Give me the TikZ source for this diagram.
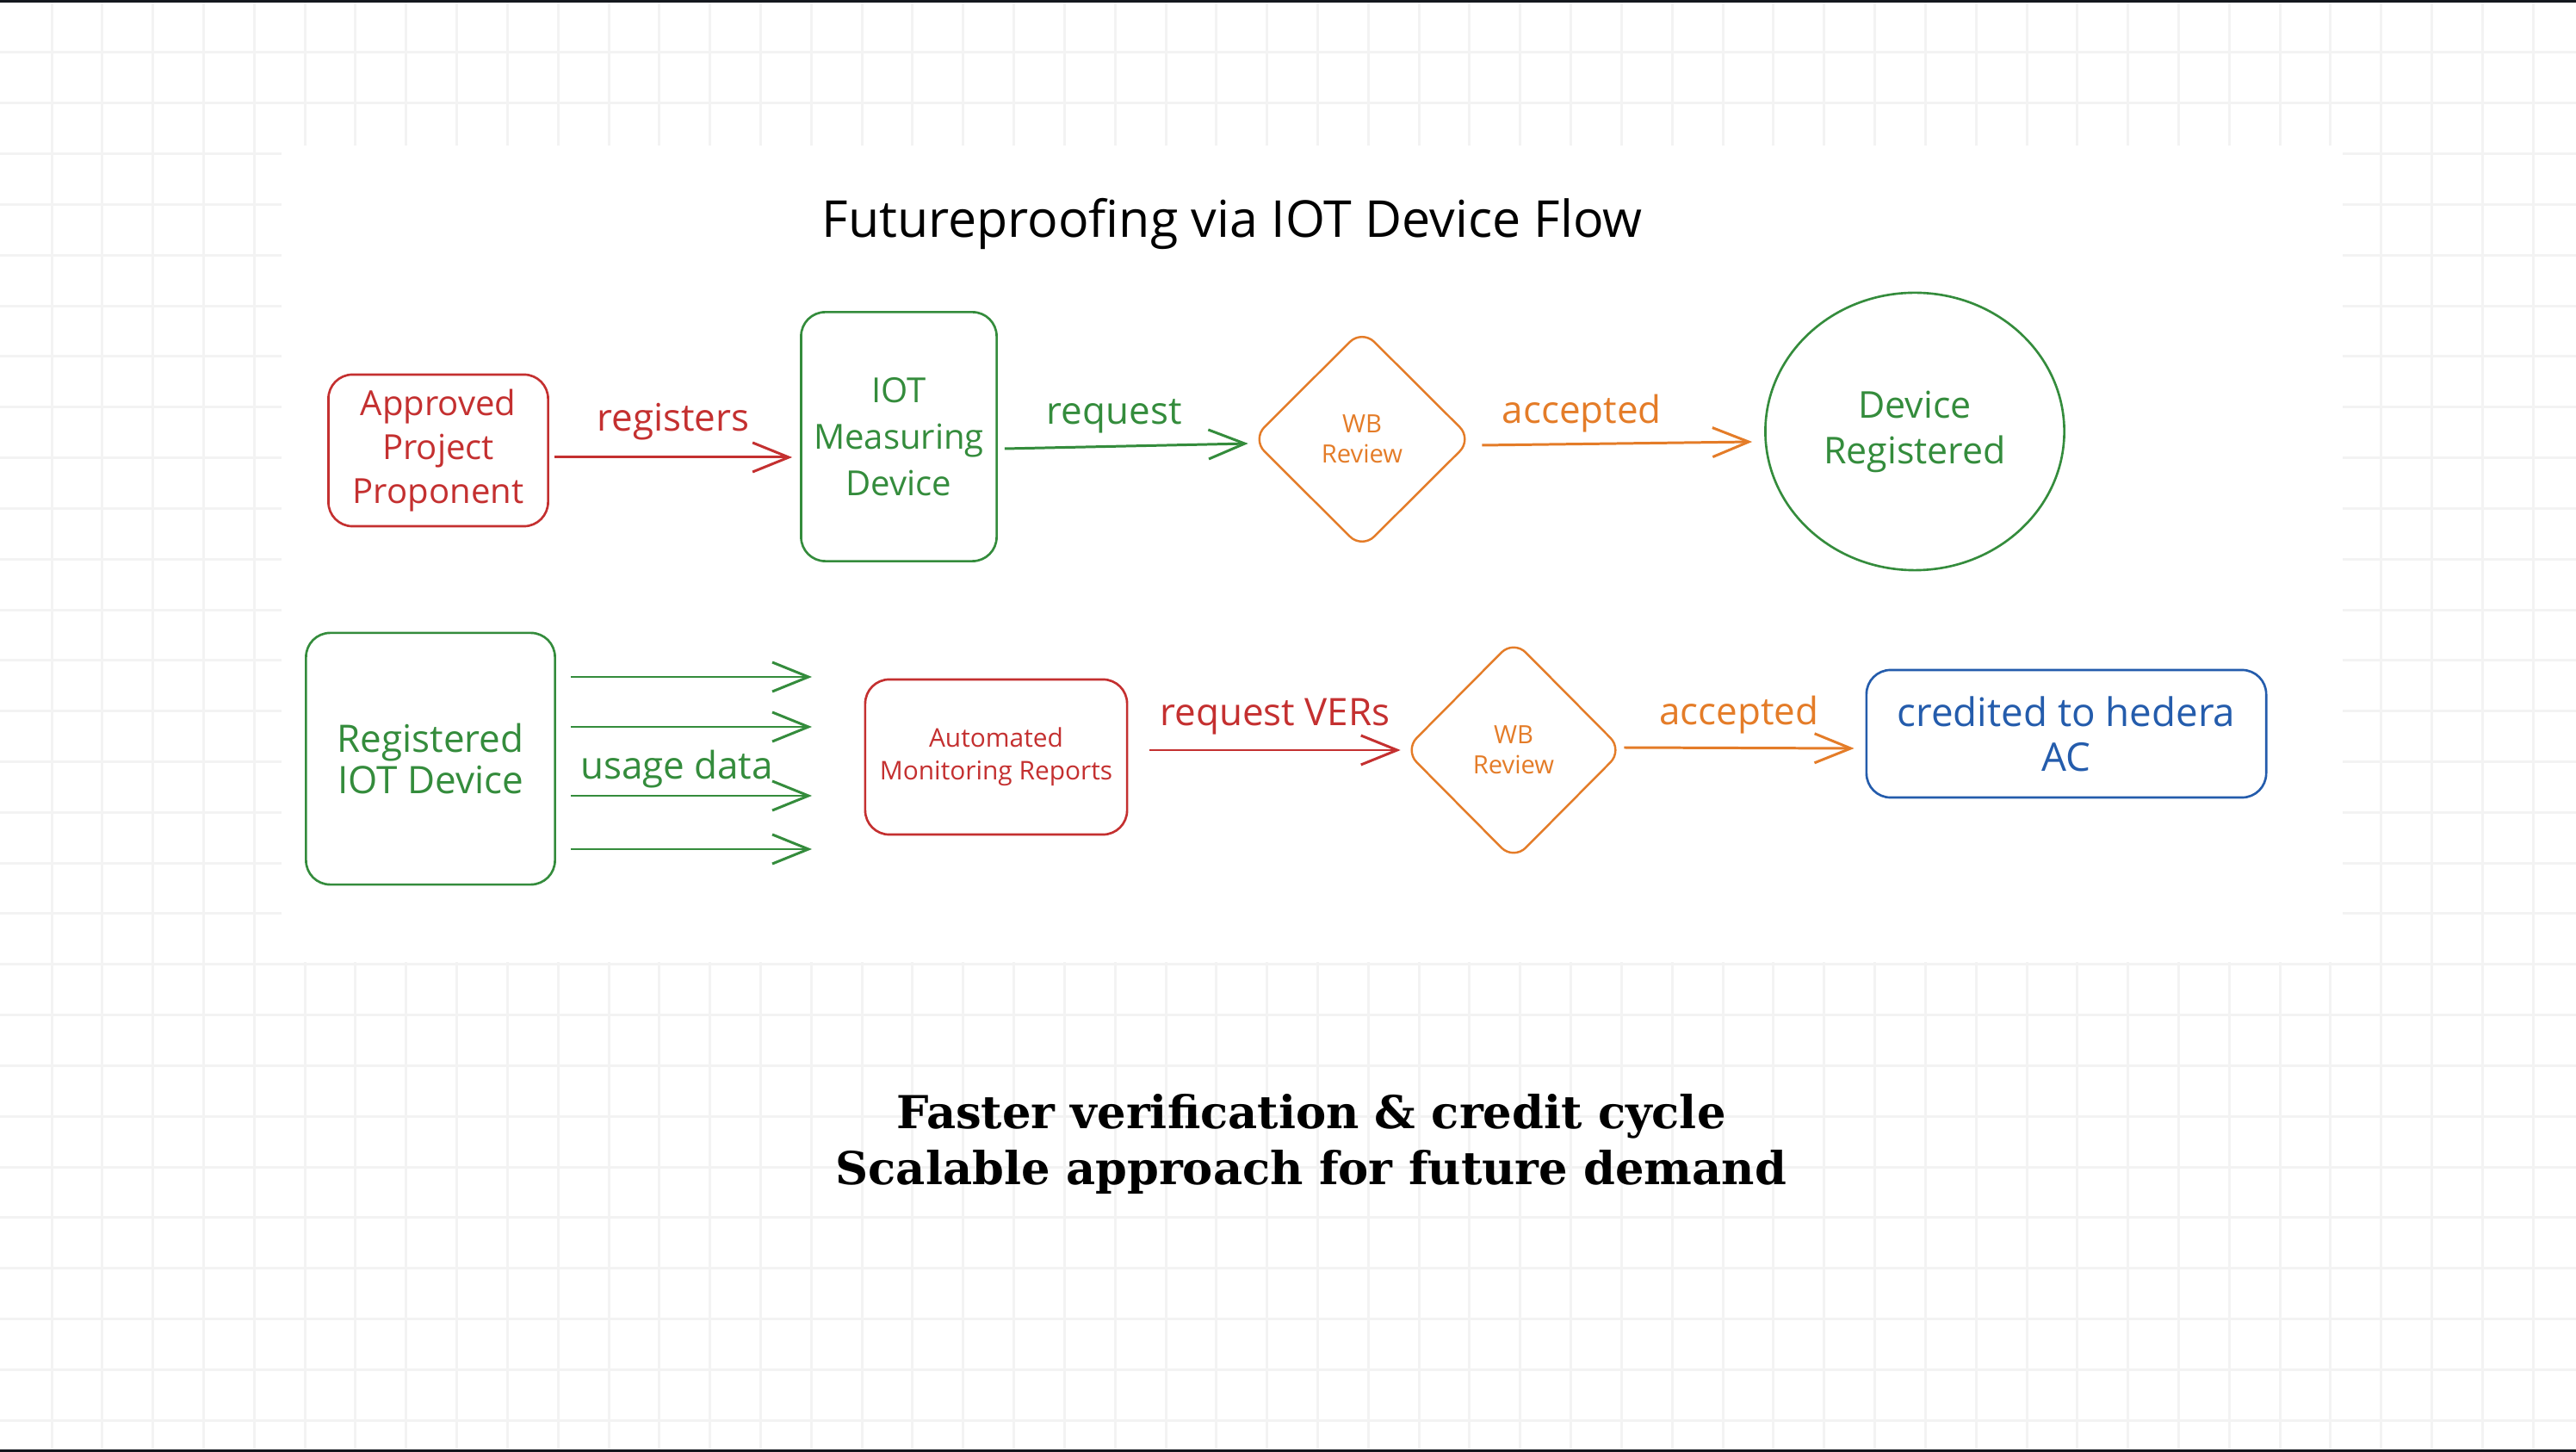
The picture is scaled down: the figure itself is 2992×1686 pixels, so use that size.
\documentclass[tikz,border=0pt]{standalone}
\usepackage{fontspec}
\setmainfont{Open Sans}
\newfontfamily\slab{DejaVu Serif}
\usetikzlibrary{arrows.meta,shapes.geometric,positioning,calc}
\definecolor{R}{RGB}{196,48,48}
\definecolor{G}{RGB}{52,140,60}
\definecolor{O}{RGB}{228,124,40}
\definecolor{B}{RGB}{36,92,172}
\definecolor{K}{RGB}{20,24,30}
\definecolor{W}{RGB}{243,243,243}
\tikzstyle{box} = [rectangle, rounded corners=0.28cm,
line width=0.75pt, align=center, inner sep=0pt]
\tikzstyle{decision} = [diamond, rounded corners=0.2cm,
line width=0.7pt, align=center, inner sep=0pt]
\tikzstyle{flow} = [-{Straight Barb[length=0.42cm,width=0.34cm]}, line width=0.85pt]
\tikzstyle{lbl} = [font=\fontsize{12.5}{15}\selectfont, inner sep=0pt]

\begin{document}
\begin{tikzpicture}[x=0.01cm,y=-0.01cm]
        \useasboundingbox (0,0) rectangle (2992,1686);
        % paper grid and panel
        \fill[white] (0,0) rectangle (2992,1686);
        \foreach \i in {0,...,50}
          \draw[W, line width=0.03cm] ({60+58.82*\i},0) -- ({60+58.82*\i},1686);
        \foreach \j in {0,...,27}
          \draw[W, line width=0.03cm] (0,{61+58.82*\j}) -- (2992,{61+58.82*\j});
        \fill[white] (327,169) rectangle (2721,1117);
        \fill[K] (0,0) rectangle (2992,3);
        \fill[K] (0,1683) rectangle (2992,1686);

        \node[font=\fontsize{16.8}{20}\selectfont, anchor=base] (title) at (1431,276)
          {Futureproofing via IOT Device Flow};

        % first row
        \node[box, draw=R, text=R, minimum width=2.55cm, minimum height=1.76cm,
          font=\fontsize{11.4}{14.5}\selectfont] (app) at (509,523)
          {Approved\\Project\\Proponent};
        \node[box, draw=G, text=G, minimum width=2.27cm, minimum height=2.89cm,
          font=\fontsize{11.4}{15.4}\selectfont] (iot) at (1044,507)
          {IOT\\Measuring\\Device};
        \node[decision, draw=O, text=O, minimum width=2.56cm, minimum height=2.55cm,
          font=\fontsize{8.3}{10}\selectfont] (wb1) at (1582,510) {WB\\Review};
        \node[ellipse, draw=G, text=G, line width=0.75pt, align=center,
          minimum width=3.47cm, minimum height=3.22cm,
          font=\fontsize{12.2}{15.1}\selectfont] (devreg) at (2224,501)
          {Device\\Registered};

        \draw[flow, R] ($(app.east)+(6,8)$) -- ($(app.east -| iot.west)+(-9,8)$)
          node[lbl, text=R, midway, above=0.18cm] {registers};
        \draw[flow, G] ($(iot.east)+(8,14)$) -- ($(wb1.west)+(-3,5)$)
          node[lbl, text=G, pos=0.45, above=0.14cm] {request};
        \draw[flow, O] ($(wb1.east)+(10,7)$) -- ($(devreg.west)+(-14,12)$)
          node[lbl, text=O, pos=0.37, above=0.12cm] {accepted};

        % second row
        \node[box, draw=G, text=G, minimum width=2.89cm, minimum height=2.92cm,
          font=\fontsize{12.5}{13.7}\selectfont] (reg) at (500,881)
          {Registered\\IOT Device};
        \node[box, draw=R, text=R, minimum width=3.04cm, minimum height=1.80cm,
          font=\fontsize{8.5}{10.8}\selectfont] (amr) at (1157,879)
          {Automated\\Monitoring Reports};
        \node[decision, draw=O, text=O, minimum width=2.54cm, minimum height=2.56cm,
          font=\fontsize{8.3}{10}\selectfont] (wb2) at (1758,871) {WB\\Review};
        \node[box, draw=B, text=B, minimum width=4.64cm, minimum height=1.48cm,
          font=\fontsize{13}{14.8}\selectfont] (credit) at (2400,852)
          {credited to hedera\\AC};

        \foreach \y [count=\i] in {786,844,924,986}
          \coordinate (u\i) at (943,\y);
        \foreach \i in {1,...,4}
          \draw[flow, G] ($(reg.east |- u\i)+(17,0)$) -- (u\i);
        \node[lbl, text=G] (usage) at (786,893) {usage data};

        \draw[flow, R] ($(amr.east |- wb2.west)+(25,0)$) -- ($(wb2.west)+(-3,0)$)
          node[lbl, text=R, midway, above=0.16cm] {request VERs};
        \draw[flow, O] ($(wb2.east)+(0,-3)$) -- ($(wb2.east -| credit.west)+(-13,-2)$)
          node[lbl, text=O, midway, above=0.15cm] {accepted};

        \node[font=\slab\bfseries\fontsize{15}{18.5}\selectfont, align=center]
          (summary) at (1523,1328)
          {Faster verification \& credit cycle\\Scalable approach for future demand};
      \end{tikzpicture}
\end{document}
